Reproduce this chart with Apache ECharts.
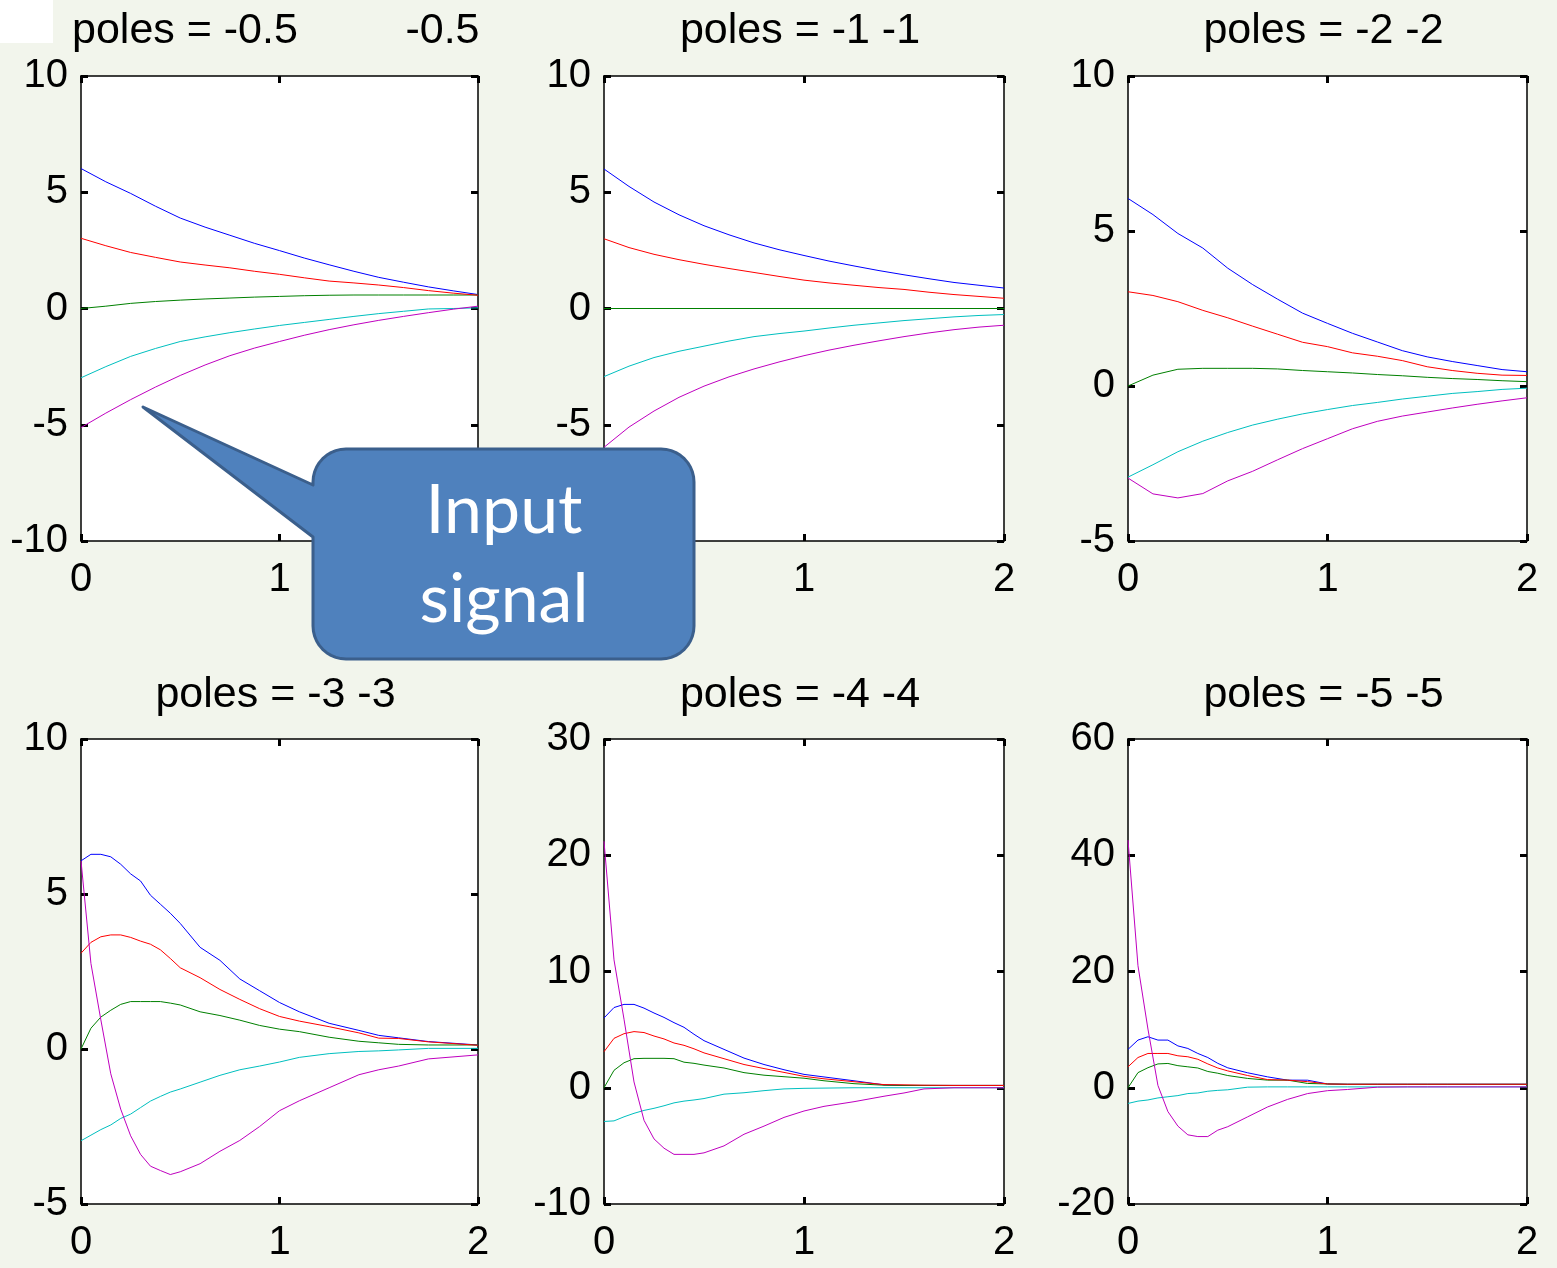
<!DOCTYPE html>
<html><head><meta charset="utf-8">
<script src="https://cdn.jsdelivr.net/npm/echarts@6/dist/echarts.min.js"></script>
<style>html,body{margin:0;padding:0;background:#f2f5ec;}#c{width:1557px;height:1268px;}</style>
</head><body><div id="c"></div>
<script>
// ---------- data ----------
const T_SLOW = [0,0.125,0.25,0.375,0.5,0.625,0.75,0.875,1,1.125,1.25,1.375,1.5,1.625,1.75,1.875,2];
const T_FAST = [0,0.05,0.1,0.15,0.2,0.25,0.3,0.35,0.4,0.45,0.5,0.6,0.7,0.8,0.9,1,1.1,1.25,1.4,1.5,1.6,1.75,2];

const P1_BLUE    = [6.02,5.45,4.95,4.4,3.89,3.5,3.15,2.8,2.49,2.17,1.88,1.6,1.34,1.13,0.93,0.76,0.6];
const P1_GREEN   = [0,0.1,0.22,0.3,0.36,0.41,0.45,0.49,0.52,0.55,0.57,0.58,0.58,0.58,0.58,0.58,0.58];
const P1_RED     = [3.02,2.7,2.41,2.2,2.0,1.87,1.75,1.6,1.47,1.32,1.18,1.1,1.01,0.9,0.77,0.66,0.57];
const P1_CYAN    = [-2.98,-2.5,-2.06,-1.72,-1.42,-1.22,-1.04,-0.88,-0.73,-0.6,-0.47,-0.34,-0.22,-0.12,-0.02,0.0,0.03];
const P1_MAGENTA = [-5.12,-4.5,-3.92,-3.38,-2.88,-2.43,-2.03,-1.7,-1.42,-1.15,-0.91,-0.7,-0.51,-0.34,-0.18,-0.03,0.1];

const P2_BLUE    = [6.0,5.25,4.58,4.03,3.56,3.17,2.82,2.53,2.28,2.04,1.83,1.63,1.45,1.28,1.12,1.0,0.88];
const P2_GREEN   = [0,0,0,0,0,0,0,0,0,0,0,0,0,0,0,0,0];
const P2_RED     = [3.0,2.62,2.33,2.1,1.9,1.72,1.55,1.38,1.22,1.1,1.0,0.9,0.82,0.7,0.6,0.52,0.44];
const P2_CYAN    = [-2.93,-2.48,-2.11,-1.84,-1.62,-1.4,-1.21,-1.08,-0.97,-0.84,-0.72,-0.62,-0.52,-0.44,-0.36,-0.3,-0.26];
const P2_MAGENTA = [-5.97,-5.1,-4.41,-3.82,-3.34,-2.94,-2.6,-2.3,-2.03,-1.79,-1.58,-1.39,-1.21,-1.05,-0.91,-0.8,-0.72];

const P3_BLUE    = [6.05,5.53,4.92,4.45,3.8,3.27,2.8,2.35,2.02,1.7,1.42,1.14,0.94,0.79,0.66,0.53,0.46];
const P3_GREEN   = [0,0.35,0.54,0.57,0.57,0.57,0.55,0.5,0.46,0.42,0.37,0.33,0.28,0.24,0.21,0.17,0.14];
const P3_RED     = [3.04,2.92,2.72,2.44,2.2,1.93,1.67,1.41,1.27,1.07,0.96,0.82,0.62,0.5,0.41,0.35,0.34];
const P3_CYAN    = [-2.94,-2.54,-2.12,-1.78,-1.5,-1.26,-1.07,-0.9,-0.76,-0.63,-0.53,-0.42,-0.33,-0.24,-0.18,-0.11,-0.07];
const P3_MAGENTA = [-2.97,-3.48,-3.61,-3.47,-3.06,-2.75,-2.38,-2.02,-1.7,-1.38,-1.14,-0.97,-0.84,-0.71,-0.59,-0.48,-0.38];

const P4_BLUE    = [6.07,6.28,6.28,6.2,5.96,5.65,5.42,4.96,4.67,4.38,4.05,3.28,2.86,2.26,1.88,1.5,1.2,0.83,0.6,0.44,0.36,0.24,0.13];
const P4_GREEN   = [0,0.67,1.03,1.25,1.44,1.53,1.53,1.53,1.53,1.48,1.42,1.2,1.08,0.93,0.76,0.64,0.56,0.38,0.25,0.2,0.15,0.13,0.13];
const P4_RED     = [3.09,3.44,3.62,3.68,3.68,3.6,3.48,3.38,3.2,2.92,2.62,2.3,1.92,1.6,1.3,1.05,0.9,0.72,0.52,0.35,0.34,0.23,0.12];
const P4_CYAN    = [-2.96,-2.78,-2.6,-2.45,-2.24,-2.1,-1.89,-1.68,-1.53,-1.39,-1.29,-1.07,-0.85,-0.67,-0.55,-0.42,-0.27,-0.15,-0.08,-0.06,-0.03,0.02,0.02];
const P4_MAGENTA = [6.07,2.76,0.94,-0.8,-1.94,-2.8,-3.4,-3.78,-3.92,-4.05,-3.96,-3.7,-3.3,-2.95,-2.5,-1.99,-1.67,-1.25,-0.83,-0.67,-0.55,-0.32,-0.19];

const P5_BLUE    = [6.0,6.9,7.17,7.17,6.85,6.43,6.05,5.6,5.2,4.6,4.05,3.3,2.55,2.0,1.55,1.15,0.93,0.6,0.25,0.2,0.2,0.2,0.2];
const P5_GREEN   = [0,1.5,2.15,2.5,2.53,2.53,2.53,2.5,2.2,2.1,1.95,1.7,1.3,1.08,0.95,0.82,0.6,0.35,0.22,0.2,0.2,0.2,0.2];
const P5_RED     = [3.1,4.25,4.65,4.83,4.75,4.45,4.2,3.85,3.65,3.35,3.0,2.5,2.0,1.65,1.32,0.98,0.77,0.52,0.27,0.25,0.22,0.2,0.2];
const P5_CYAN    = [-2.9,-2.85,-2.5,-2.2,-1.95,-1.77,-1.55,-1.3,-1.15,-1.05,-0.93,-0.55,-0.43,-0.25,-0.1,-0.05,-0.03,0,0,0,0,0,0];
const P5_MAGENTA = [21.2,11,5.9,0.5,-2.8,-4.4,-5.2,-5.73,-5.73,-5.73,-5.6,-5.0,-4.0,-3.3,-2.55,-2.0,-1.6,-1.2,-0.73,-0.45,-0.1,0,0];

const P6_BLUE    = [6.6,8.2,8.77,8.2,8.2,7.2,6.76,5.9,5.2,4.2,3.43,2.57,1.87,1.31,1.3,0.65,0.6,0.6,0.6,0.6,0.6,0.6,0.6];
const P6_GREEN   = [0,2.6,3.45,4.1,4.18,3.8,3.6,3.4,2.8,2.5,2.1,1.6,1.31,1.31,0.74,0.65,0.6,0.6,0.6,0.6,0.6,0.6,0.6];
const P6_RED     = [3.6,5.2,5.9,5.9,5.9,5.5,5.33,4.9,4.1,3.4,2.9,2.1,1.4,1.31,1.05,0.65,0.6,0.6,0.6,0.6,0.6,0.6,0.6];
const P6_CYAN    = [-2.7,-2.3,-2.1,-1.75,-1.55,-1.35,-1.0,-0.9,-0.6,-0.45,-0.35,0.1,0.15,0.15,0.15,0.15,0.15,0.15,0.15,0.15,0.15,0.15,0.15];
const P6_MAGENTA = [42.6,21,10.1,0.4,-4.1,-6.6,-8.1,-8.4,-8.4,-7.3,-6.7,-5.0,-3.3,-2.0,-1.0,-0.5,-0.3,0.1,0.15,0.15,0.15,0.15,0.15];

const TITLES = ['poles = -0.5         -0.5','poles = -1 -1','poles = -2 -2','poles = -3 -3','poles = -4 -4','poles = -5 -5'];
const Y_MIN  = [-10,-10,-5,-5,-10,-20];
const Y_MAX  = [10,10,10,10,30,60];
const Y_STEP = [5,5,5,5,10,20];
const X_MIN = 0, X_MAX = 2, X_STEP = 1;
const CALLOUT_TEXT = ['Input','signal'];

const PANELS = [
  {t:T_SLOW, s:[P1_BLUE,P1_GREEN,P1_RED,P1_CYAN,P1_MAGENTA]},
  {t:T_SLOW, s:[P2_BLUE,P2_GREEN,P2_RED,P2_CYAN,P2_MAGENTA]},
  {t:T_SLOW, s:[P3_BLUE,P3_GREEN,P3_RED,P3_CYAN,P3_MAGENTA]},
  {t:T_FAST, s:[P4_BLUE,P4_GREEN,P4_RED,P4_CYAN,P4_MAGENTA]},
  {t:T_FAST, s:[P5_BLUE,P5_GREEN,P5_RED,P5_CYAN,P5_MAGENTA]},
  {t:T_FAST, s:[P6_BLUE,P6_GREEN,P6_RED,P6_CYAN,P6_MAGENTA]}
];

// ---------- layout / style ----------
const COLORS = ['#0000ff','#008000','#ff0000','#00bfbf','#bf00bf'];
const LEFTS  = [81,604,1128];
const WIDTHS = [397,400,399];
const TOPS   = [76,739];
const H = 465;
const FONT = "'Liberation Sans', Arial, Helvetica, sans-serif";

const grids = [], xAxes = [], yAxes = [], series = [], graphics = [];

graphics.push({type:'rect', shape:{x:0,y:0,width:53,height:43}, style:{fill:'#ffffff'}, z:0});

PANELS.forEach((p, i) => {
  const col = i % 3, row = Math.floor(i / 3);
  grids.push({left:LEFTS[col], top:TOPS[row], width:WIDTHS[col], height:H,
    show:true, backgroundColor:'#ffffff', borderWidth:0});
  const line = {show:true, onZero:false, lineStyle:{color:'#000', width:1.5}};
  const tick = {show:true, inside:true, length:7, lineStyle:{color:'#000', width:3}};
  const lab = {show:true, color:'#000', fontSize:40, fontFamily:FONT};
  xAxes.push({gridIndex:i, type:'value', position:'bottom', min:X_MIN, max:X_MAX, interval:X_STEP,
    axisLine:line, axisTick:tick, axisLabel:Object.assign({margin:19}, lab), splitLine:{show:false}});
  xAxes.push({gridIndex:i, type:'value', position:'top', min:X_MIN, max:X_MAX, interval:X_STEP,
    axisLine:line, axisTick:tick, axisLabel:{show:false}, splitLine:{show:false}});
  yAxes.push({gridIndex:i, type:'value', position:'left', min:Y_MIN[i], max:Y_MAX[i], interval:Y_STEP[i],
    axisLine:line, axisTick:tick, axisLabel:Object.assign({margin:13}, lab), splitLine:{show:false}});
  yAxes.push({gridIndex:i, type:'value', position:'right', min:Y_MIN[i], max:Y_MAX[i], interval:Y_STEP[i],
    axisLine:line, axisTick:tick, axisLabel:{show:false}, splitLine:{show:false}});
  p.s.forEach((vals, k) => {
    series.push({type:'line', xAxisIndex:2*i, yAxisIndex:2*i, showSymbol:false, symbol:'none',
      data: p.t.map((t, j) => [t, vals[j]]),
      lineStyle:{color:COLORS[k], width:1}, itemStyle:{color:COLORS[k]}, silent:true, z:2+k});
  });
  const cx = LEFTS[col] + WIDTHS[col] / 2 - 4;
  graphics.push({type:'text', x: i === 0 ? 72 : cx, y: row === 0 ? 31 : 695, z:10,
    style:{text:TITLES[i], fill:'#000', font:'43px ' + FONT,
      textAlign: i === 0 ? 'left' : 'center', textVerticalAlign:'middle'}});
});

// callout shape
(function(){
  const x0 = 313, y0 = 449, x1 = 694, y1 = 659, r = 33;
  const pts = [];
  const arc = (cx, cy, a0, a1) => { for (let k = 0; k <= 10; k++) { const a = (a0 + (a1 - a0) * k / 10) * Math.PI / 180; pts.push([cx + r * Math.cos(a), cy + r * Math.sin(a)]); } };
  arc(x1 - r, y0 + r, -90, 0);
  arc(x1 - r, y1 - r, 0, 90);
  arc(x0 + r, y1 - r, 90, 180);
  pts.push([x0, 537]); pts.push([143, 407]); pts.push([x0, 485]);
  arc(x0 + r, y0 + r, 180, 270);
  graphics.push({type:'polygon', z:50, shape:{points:pts},
    style:{fill:'#4f81bd', stroke:'#3b5f8c', lineWidth:3, lineJoin:'round'}});
  const f = "68px Lato, 'Open Sans', sans-serif";
  graphics.push({type:'text', x:504, y:511, z:51, style:{text:CALLOUT_TEXT[0], fill:'#fff', font:f, textAlign:'center', textVerticalAlign:'middle'}});
  graphics.push({type:'text', x:504, y:600, z:51, style:{text:CALLOUT_TEXT[1], fill:'#fff', font:f, textAlign:'center', textVerticalAlign:'middle'}});
})();

const chart = echarts.init(document.getElementById('c'), null, {renderer:'canvas', width:1557, height:1268});
chart.setOption({
  backgroundColor:'#f2f5ec',
  animation:false,
  grid:grids, xAxis:xAxes, yAxis:yAxes, series:series,
  graphic:{elements:graphics}
});
</script></body></html>
